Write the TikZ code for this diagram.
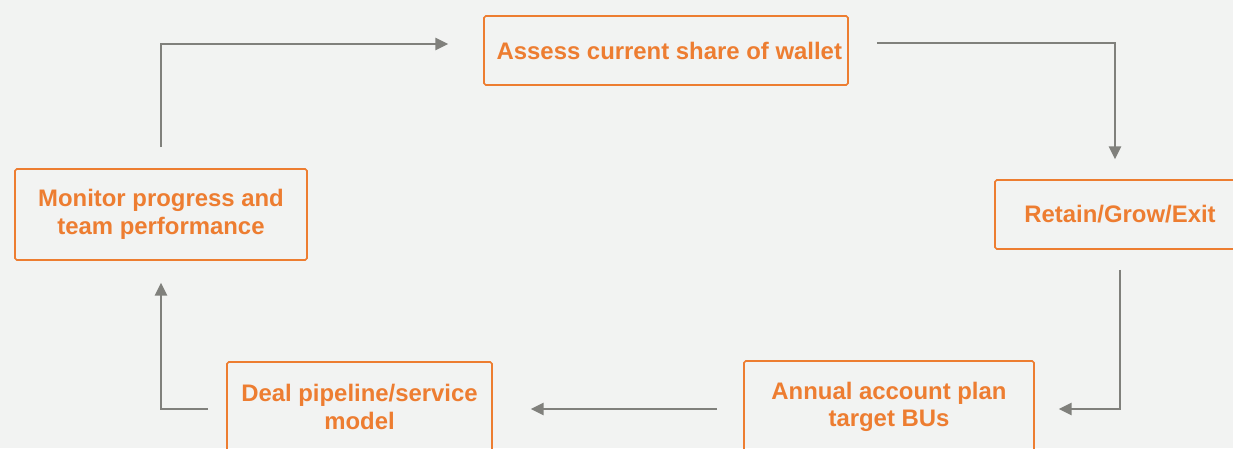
\documentclass[tikz,border=0pt]{standalone}
\usepackage{fontspec}
\setmainfont{Liberation Sans}
\usetikzlibrary{arrows.meta}
\definecolor{boxorange}{RGB}{237,125,49}
\definecolor{arrowgray}{RGB}{128,128,124}
\definecolor{pagegray}{RGB}{242,243,242}

\begin{document}
\begin{tikzpicture}[
    x=0.03cm, y=-0.03cm,
    stage/.style={rectangle, draw=boxorange, line width=1.4pt, rounded corners=1.5pt, align=center, inner sep=0pt, text=boxorange, font=\fontsize{20.4}{23.6}\selectfont\bfseries},
    flow/.style={-{Triangle[length=11pt, width=10.5pt]}, draw=arrowgray, line width=1.6pt}
]
% Background
\fill[pagegray] (0,0) rectangle (1233,448);
\clip (0,0) rectangle (1233,448);

% Top step
\node[stage, minimum width=10.92cm, minimum height=2.07cm] (assess) at (666,50.5) {\hspace{0.2cm}Assess current share of wallet};

% Right step
\node[stage, minimum width=7.5cm, minimum height=2.07cm] (retain) at (1120,214.5) {Retain/Grow/Exit};

% Bottom steps
\node[stage, minimum width=8.7cm, minimum height=2.76cm] (annual) at (889,407) {Annual account plan\\target BUs};
\node[stage, minimum width=7.95cm, minimum height=2.7cm] (deal) at (359.5,407) {Deal pipeline/service\\model};

% Left step
\node[stage, minimum width=8.76cm, minimum height=2.73cm] (monitor) at (161,214.5) {Monitor progress and\\team performance};

% Arrows
\draw[flow, shorten <=0.63cm, shorten >=1.05cm] (monitor.north) |- ([yshift=0.195cm]assess.west);
\draw[flow, shorten <=0.84cm, shorten >=0.6cm] ([yshift=0.225cm]assess.east) -| ([xshift=-0.15cm]retain.north);
\draw[flow, shorten <=0.6cm, shorten >=0.72cm] (retain.south) |- ([yshift=-0.06cm]annual.east);
\draw[flow, shorten <=0.78cm, shorten >=1.14cm] ([yshift=-0.06cm]annual.west) -- ([yshift=-0.06cm]deal.east);
\draw[flow, shorten <=0.54cm, shorten >=0.66cm] ([yshift=-0.06cm]deal.west) -| (monitor.south);

\end{tikzpicture}
\end{document}
